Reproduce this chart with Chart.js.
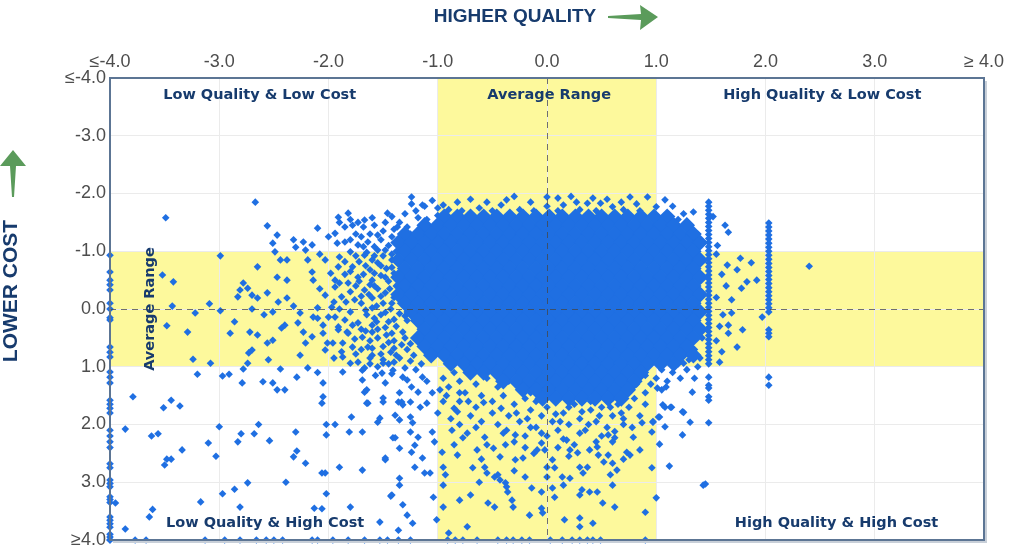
<!DOCTYPE html>
<html>
<head>
<meta charset="utf-8">
<script src="https://cdn.jsdelivr.net/npm/chart.js@4.4.1/dist/chart.umd.min.js"></script>
<style>
  html, body { margin: 0; padding: 0; background: #fff; }
  #wrap { width: 1024px; height: 559px; }
</style>
</head>
<body>
<div id="wrap"><canvas id="myChart" width="1024" height="559"></canvas></div>
<script>
// quality (x) vs cost (y) scatter, values clipped to +/-4

const tickValues = [-4, -3, -2, -1, 0, 1, 2, 3, 4];
const xTickLabels = ['≤-4.0', '-3.0', '-2.0', '-1.0', '0.0', '1.0', '2.0', '3.0', '≥ 4.0'];
const yTickLabels = ['≤-4.0', '-3.0', '-2.0', '-1.0', '0.0', '1.0', '2.0', '3.0', '≥4.0'];

// solid core of the cloud, read row by row: [y, [x, x, ...]]
const denseRows = [
    [-1.6, [-0.94,-0.82,-0.7,-0.58,-0.46,-0.34,-0.22,-0.1,0.02,0.14,0.26,0.38,0.5,0.62,0.74,0.86,0.98,1.1]],
    [-1.45, [-1.12,-1.0,-0.88,-0.76,-0.64,-0.52,-0.4,-0.28,-0.16,-0.04,0.08,0.2,0.32,0.44,0.56,0.68,0.8,0.92,1.04,1.16,1.28]],
    [-1.3, [-1.3,-1.18,-1.06,-0.94,-0.82,-0.7,-0.58,-0.46,-0.34,-0.22,-0.1,0.02,0.14,0.26,0.38,0.5,0.62,0.74,0.86,0.98,1.1,1.22,1.34]],
    [-1.15, [-1.36,-1.24,-1.12,-1.0,-0.88,-0.76,-0.64,-0.52,-0.4,-0.28,-0.16,-0.04,0.08,0.2,0.32,0.44,0.56,0.68,0.8,0.92,1.04,1.16,1.28,1.4]],
    [-1.0, [-1.3,-1.18,-1.06,-0.94,-0.82,-0.7,-0.58,-0.46,-0.34,-0.22,-0.1,0.02,0.14,0.26,0.38,0.5,0.62,0.74,0.86,0.98,1.1,1.22,1.34]],
    [-0.85, [-1.36,-1.24,-1.12,-1.0,-0.88,-0.76,-0.64,-0.52,-0.4,-0.28,-0.16,-0.04,0.08,0.2,0.32,0.44,0.56,0.68,0.8,0.92,1.04,1.16,1.28,1.4]],
    [-0.7, [-1.3,-1.18,-1.06,-0.94,-0.82,-0.7,-0.58,-0.46,-0.34,-0.22,-0.1,0.02,0.14,0.26,0.38,0.5,0.62,0.74,0.86,0.98,1.1,1.22,1.34]],
    [-0.55, [-1.36,-1.24,-1.12,-1.0,-0.88,-0.76,-0.64,-0.52,-0.4,-0.28,-0.16,-0.04,0.08,0.2,0.32,0.44,0.56,0.68,0.8,0.92,1.04,1.16,1.28,1.4]],
    [-0.4, [-1.3,-1.18,-1.06,-0.94,-0.82,-0.7,-0.58,-0.46,-0.34,-0.22,-0.1,0.02,0.14,0.26,0.38,0.5,0.62,0.74,0.86,0.98,1.1,1.22,1.34]],
    [-0.25, [-1.36,-1.24,-1.12,-1.0,-0.88,-0.76,-0.64,-0.52,-0.4,-0.28,-0.16,-0.04,0.08,0.2,0.32,0.44,0.56,0.68,0.8,0.92,1.04,1.16,1.28,1.4]],
    [-0.1, [-1.3,-1.18,-1.06,-0.94,-0.82,-0.7,-0.58,-0.46,-0.34,-0.22,-0.1,0.02,0.14,0.26,0.38,0.5,0.62,0.74,0.86,0.98,1.1,1.22,1.34]],
    [0.05, [-1.24,-1.12,-1.0,-0.88,-0.76,-0.64,-0.52,-0.4,-0.28,-0.16,-0.04,0.08,0.2,0.32,0.44,0.56,0.68,0.8,0.92,1.04,1.16,1.28,1.4]],
    [0.2, [-1.18,-1.06,-0.94,-0.82,-0.7,-0.58,-0.46,-0.34,-0.22,-0.1,0.02,0.14,0.26,0.38,0.5,0.62,0.74,0.86,0.98,1.1,1.22,1.34]],
    [0.35, [-1.12,-1.0,-0.88,-0.76,-0.64,-0.52,-0.4,-0.28,-0.16,-0.04,0.08,0.2,0.32,0.44,0.56,0.68,0.8,0.92,1.04,1.16,1.28,1.4]],
    [0.5, [-1.18,-1.06,-0.94,-0.82,-0.7,-0.58,-0.46,-0.34,-0.22,-0.1,0.02,0.14,0.26,0.38,0.5,0.62,0.74,0.86,0.98,1.1,1.22,1.34]],
    [0.65, [-1.12,-1.0,-0.88,-0.76,-0.64,-0.52,-0.4,-0.28,-0.16,-0.04,0.08,0.2,0.32,0.44,0.56,0.68,0.8,0.92,1.04,1.16,1.28]],
    [0.8, [-1.06,-0.94,-0.82,-0.7,-0.58,-0.46,-0.34,-0.22,-0.1,0.02,0.14,0.26,0.38,0.5,0.62,0.74,0.86,0.98,1.1,1.22,1.34]],
    [0.95, [-0.88,-0.76,-0.64,-0.52,-0.4,-0.28,-0.16,-0.04,0.08,0.2,0.32,0.44,0.56,0.68,0.8,0.92,1.04,1.16]],
    [1.1, [-0.7,-0.58,-0.46,-0.34,-0.22,-0.1,0.02,0.14,0.26,0.38,0.5,0.62,0.74,0.86]],
    [1.25, [-0.4,-0.28,-0.16,-0.04,0.08,0.2,0.32,0.44,0.56,0.68,0.8]],
    [1.4, [-0.22,-0.1,0.02,0.14,0.26,0.38,0.5,0.62,0.74]],
    [1.55, [-0.04,0.08,0.2,0.32,0.44,0.56,0.68]]
];

// values at or beyond the limits, stacked on the plot edges
const leftEdgeY = [-0.93,-0.64,-0.5,-0.42,-0.33,-0.1,0.0,0.15,0.19,0.66,0.75,0.83,1.09,1.18,1.28,1.58,1.65,1.72,1.8,
    2.1,2.2,2.3,2.4,2.68,2.75,2.96,3.02,3.08,3.25,3.3,3.35,3.6,3.66,3.72,3.78,3.9,3.95,4.0];
const bottomEdgeX = [-4,-3.77,-3.67,-3.13,-2.95,-2.81,-2.66,-2.57,-2.5,-2.42,-2.15,-2.1,-1.96,-1.82,-1.67,-1.53,-1.46,-1.36,
    -1.25,-0.91,-0.84,-0.77,-0.64,-0.45,-0.37,-0.31,-0.23,-0.16,0.03,0.14,0.23,0.3,0.37,0.42,0.49,0.9];

// two vertical stacks of identical quality scores
const stackAX = 1.48;
const stackAY = [-1.85,-1.78,-1.71,-1.64,-1.57,-1.5,-1.43,-1.36,-1.29,-1.22,-1.15,-1.08,-1.01,-0.94,-0.87,-0.8,-0.73,-0.66,
    -0.59,-0.52,-0.45,-0.38,-0.31,-0.24,-0.17,-0.1,-0.03,0.04,0.11,0.18,0.25,0.32,0.39,0.46,0.53,0.6,0.67,0.74,0.81,0.88,0.95,
    1.18,1.32,1.37,1.52,1.58,1.97];
const stackBX = 2.03;
const stackBY = [-1.49,-1.42,-1.35,-1.28,-1.21,-1.14,-1.07,-1.0,-0.93,-0.86,-0.79,-0.72,-0.65,-0.58,-0.51,-0.44,-0.37,-0.3,
    -0.23,-0.16,-0.09,-0.02,0.05,0.36,0.42,0.48,1.18,1.32];

// loose points, [x, y]
const upperLeftPts = [
    [-3.49,-1.58],[-2.67,-1.85],[-2.56,-1.44],[-2.47,-1.28],[-2.51,-1.14],[-2.49,-0.99],[-2.32,-1.2],[-2.23,-1.16],[-2.15,-1.11],
    [-2.21,-1.02],[-2.3,-1.07],[-2.1,-1.4],[-2.44,-0.85],[-2.38,-0.85],[-2.99,-0.92],[-2.65,-0.73],[-2.47,-0.55],[-2.38,-0.5],
    [-3.52,-0.59],[-3.42,-0.47],[-2.78,-0.45],[-2.81,-0.33],[-2.74,-0.36],[-2.7,-0.24],[-2.65,-0.19],[-2.56,-0.28],[-2.83,-0.21],
    [-2.46,-0.12],[-2.38,-0.19],[-3.43,-0.05],[-3.22,0.07],[-3.09,-0.09],[-2.99,0.03],[-2.7,0.0],[-2.59,0.1],[-2.51,0.05],
    [-2.32,-0.05],[-2.26,0.07],[-2.86,0.22],[-3.48,0.29],[-3.29,0.4],[-2.9,0.42],[-2.72,0.4],[-2.65,0.45],[-2.56,0.59],
    [-2.51,0.54],[-2.43,0.33],[-2.4,0.28],[-2.28,0.24],[-2.23,0.4],[-2.21,0.59],[-2.15,0.48],[-2.7,0.71],[-2.73,0.76],
    [-2.55,0.88],[-3.24,0.87],[-3.08,0.94],[-2.78,1.04],[-2.74,0.94],[-2.44,1.04],[-2.26,0.8],[-2.19,1.02],[-2.03,0.71],
    [-3.2,1.13],[-2.97,1.16],[-2.91,1.13],[-2.29,1.18],[-2.1,0.16],[-2.0,0.14],[-1.96,0.59],[-1.91,0.36],[-1.83,0.4],[-1.88,0.74],
    [-1.91,-1.59],[-1.82,-1.66],[-1.94,-1.31],[-2.03,-0.85],[-2.19,-0.85],[-2.15,-0.64],[-2.14,-0.5],[-2.03,-0.24],[-1.94,-0.38],
    [-2.1,-0.02],[-1.97,-0.03],[-2.14,0.14],[-2.05,0.28],[-1.91,0.31],[-2.01,0.59],[-1.78,-1.45],[-1.73,-1.5],[-1.67,-1.54],
    [-1.6,-1.58],[-1.46,-1.66],[-1.42,-1.6],[-1.24,-1.94],[-1.24,-1.82],[-1.14,-1.8],[-1.37,-1.42],[-1.92,-1.14],[-1.85,-1.16],
    [-1.73,-1.11],[-1.64,-1.16],[-1.8,-0.99],[-1.67,-0.93],[-1.55,-1.02],[-1.91,-0.73],[-1.78,-0.73],[-1.94,-0.5],[-1.82,-0.45],
    [-1.73,-0.55],[-1.6,-0.5],[-1.67,-0.33],[-1.88,-0.21],[-1.76,-0.16],[-1.6,-0.19],[-1.94,0.14],[-1.85,0.19],[-1.73,0.24],
    [-1.58,0.16],[-1.82,0.42],[-1.69,0.49],[-1.6,0.4],[-1.87,0.59],[-1.78,0.66],[-1.64,0.66],[-1.87,0.83],[-1.73,0.92],
    [-1.6,0.8],[-1.87,1.09],[-1.8,0.94],[-1.69,1.06],[-1.51,1.11],
    [-1.5,-1.35],[-1.42,-1.25],[-1.52,-1.2],[-1.45,-1.1],[-1.38,-1.0],[-1.5,-0.92],[-1.42,-0.85],[-1.55,-0.8],[-1.47,-0.7],
    [-1.4,-0.62],[-1.52,-0.58],[-1.45,-0.48],[-1.38,-0.4],[-1.55,-0.35],[-1.48,-0.28],[-1.4,-0.2],[-1.5,-0.1],[-1.43,0.0],
    [-1.35,0.08],[-1.52,0.1],[-1.45,0.22],[-1.38,0.3],[-1.55,0.35],[-1.47,0.45],[-1.4,0.55],[-1.33,0.62],[-1.5,0.65],
    [-1.43,0.75],[-1.35,0.85],[-1.25,0.9],[-1.45,0.95],[-1.3,1.02],[-1.2,1.05],[-1.15,0.95],[-1.22,0.8],[-1.28,0.7],
    [-1.3,0.5],[-1.32,0.4],[-1.28,0.2],[-1.3,0.12],[-1.25,0.6],
    [-1.62,-1.3],[-1.7,-1.25],[-1.58,-1.08],[-1.65,-0.98],[-1.6,-0.85],[-1.72,-0.82],[-1.62,-0.68],[-1.68,-0.6],[-1.58,-0.4],
    [-1.75,-0.4],[-1.63,-0.25],[-1.7,-0.1],[-1.6,-0.02],[-1.8,0.05],[-1.65,0.1],[-1.6,0.28],[-1.7,0.35],[-1.62,0.55],
    [-1.75,0.78],[-1.62,0.95],[-1.57,1.15],[-1.85,-0.6],[-1.8,-0.3],[-1.9,-0.9],[-1.75,-1.3],[-1.85,-1.42],
    [-1.9,-1.5],[-1.8,-1.55],[-1.68,-1.42],[-1.58,-1.45],[-1.48,-1.5],[-1.4,-1.38],[-1.55,-1.28],[-1.8,-1.2],[-1.68,-1.08],
    [-1.48,-1.02],[-1.58,-0.92],[-1.85,-0.82],[-1.75,-0.92],[-1.42,-0.95],[-1.52,-0.75],[-1.66,-0.75],[-1.8,-0.65],[-1.42,-0.72],
    [-1.58,-0.62],[-1.72,-0.48],[-1.48,-0.55],[-1.62,-0.42],[-1.9,-0.45],[-1.44,-0.35],[-1.52,-0.22],[-1.7,-0.22],[-1.84,-0.12],
    [-1.42,-0.1],[-1.56,-0.05],[-1.66,0.02],[-1.48,0.06],[-1.9,0.0],[-1.4,0.18],[-1.56,0.22],[-1.78,0.28],[-1.48,0.32],
    [-1.66,0.38],[-1.42,0.42],[-1.55,0.5],[-1.76,0.52],[-1.45,0.58],[-1.6,0.68],[-1.4,0.68],[-1.7,0.7],[-1.52,0.78],
    [-1.38,0.8],[-1.62,0.85],[-1.5,0.88],[-1.4,0.92],[-1.55,1.0],[-1.42,1.12],[-1.32,1.18],[-2.0,-1.25],[-2.08,-0.95],
    [-1.98,-0.62],[-2.08,-0.35],[-1.95,-0.12],[-2.05,0.42],[-1.95,0.85],[-2.1,1.1]
];

const lowerLeftPts = [
    [-2.79,1.28],[-2.6,1.26],[-2.51,1.28],[-2.47,1.4],[-2.4,1.4],[-2.05,1.28],[-2.05,1.52],[-2.06,1.63],[-1.69,1.23],
    [-1.65,1.4],[-1.64,1.63],[-1.5,1.54],[-1.53,1.89],[-1.55,1.96],[-1.39,1.84],[-1.36,1.61],[-3.79,1.52],[-3.51,1.71],
    [-3.44,1.58],[-3.36,1.68],[-3.86,2.08],[-3.62,2.2],[-3.56,2.16],[-3.34,2.44],[-3.5,2.7],[-3.48,2.6],[-3.44,2.6],
    [-3.1,2.32],[-3.03,2.55],[-3.0,2.04],[-2.83,2.3],[-2.8,2.16],[-2.68,2.16],[-2.64,2.0],[-2.54,2.28],[-2.32,2.56],
    [-2.29,2.46],[-2.3,2.13],[-2.21,2.67],[-2.06,2.84],[-2.03,2.84],[-2.02,2.18],[-2.02,2.0],[-1.94,2.0],[-1.9,2.74],
    [-1.81,2.13],[-1.79,1.87],[-1.69,2.13],[-1.69,2.79],[-1.48,2.61],[-1.41,2.23],[-1.43,3.24],[-2.39,3.0],[-2.74,3.01],
    [-2.86,3.12],[-2.97,3.2],[-3.17,3.34],[-2.02,3.2],[-2.13,3.45],[-2.06,3.46],[-1.8,3.43],[-2.81,3.43],[-3.61,3.47],
    [-3.64,3.6],[-3.86,3.81],[-3.95,3.36],[-1.53,3.69],[-1.36,3.83]
];

const lowerMidPts = [
    [-1.67,1.02],[-1.5,0.94],[-1.41,1.06],[-1.67,1.44],[-1.65,1.63],[-1.48,1.28],[-1.5,1.61],[-1.35,1.45],[-1.33,1.61],
    [-1.32,1.66],[-1.25,1.61],[-1.24,1.35],[-1.28,1.23],[-1.14,1.18],[-1.18,1.44],[-1.1,1.63],[-1.16,1.7],[-1.35,1.92],
    [-1.25,1.87],[-1.23,1.97],[-1.25,2.13],[-1.39,2.23],[-1.18,2.22],[-1.21,2.36],[-1.35,2.41],[-1.48,2.58],[-1.24,2.48],
    [-1.14,2.58],[-1.21,2.74],[-1.12,2.84],[-1.07,2.84],[-1.35,2.93],[-1.35,3.05],[-1.42,3.22],[-1.04,3.26],[-1.32,3.39],
    [-1.28,3.57],[-1.23,3.71],[-1.01,3.65],[-0.98,1.4],[-1.05,2.13],[-1.03,2.3],[-0.96,2.48],[-0.95,2.74],[-0.93,2.87],
    [-0.95,3.05],[-0.95,3.43],[-0.9,3.88],[-0.8,1.45],[-0.82,1.78],[-0.87,2.1],[-0.73,2.15],[-0.77,2.23],[-0.82,2.53],
    [-0.68,2.75],[-0.7,3.22],[-0.8,3.31],[-0.73,3.77],[-0.57,2.22],[-0.55,2.35],[-0.49,2.41],[-0.64,2.44],[-0.57,2.74],
    [-0.55,2.84],[-0.48,2.91],[-0.43,2.96],[-0.38,3.01],[-0.37,3.08],[-0.36,3.17],[-0.32,3.31],[-0.31,3.43],[-0.45,2.87],
    [-0.54,3.36],[-0.48,3.43],[-0.43,2.56],[-0.38,2.35],[-0.37,2.1],[-0.29,2.18],[-0.29,2.61],[-0.22,2.58],[-0.2,2.91],
    [-0.16,3.57],[-0.14,3.1],[-0.05,3.17],[-0.05,3.45],[-0.04,3.53],[0.0,2.91],[0.0,2.74],[0.07,2.75],[0.05,3.1],[0.07,3.26],
    [-0.05,2.32],[-0.02,2.44],[-0.09,2.44],[0.05,2.61],[0.14,2.91],[0.21,2.93],[0.16,3.65],[0.3,3.62],[0.3,3.77],[0.42,3.71],
    [0.3,3.22],[0.32,3.13],[0.39,3.17],[0.3,2.74],[0.37,2.74],[0.33,2.84],[0.39,2.44],[0.46,2.39],[0.28,2.49],[0.21,2.44],
    [0.18,2.27],[0.51,3.36],[0.62,3.43],[0.46,3.17],[0.58,2.87],[0.64,2.79],[0.6,2.67],[0.56,2.53],[0.47,2.53],[0.73,2.48],
    [0.85,2.44],[0.76,2.53],[0.96,2.75],[0.9,3.52],[1.0,3.27],[0.79,2.22],[0.96,2.13],[0.87,1.97],[0.97,1.96],[0.62,2.23],
    [0.56,2.18],[1.03,1.87],[1.01,1.37],[1.08,1.7],[1.14,1.7],[1.33,1.44],[1.24,1.78],[1.31,1.96],[1.08,2.04],[1.24,2.18],
    [1.43,3.05],[1.45,3.03],[1.12,2.72],[1.03,2.34],
    [-0.95,1.2],[-0.85,1.1],[-0.8,1.25],[-0.7,1.15],[-0.65,1.3],[-0.55,1.2],[-0.45,1.35],[-0.35,1.25],[-0.25,1.4],[-0.9,1.35],
    [-0.75,1.45],[-0.6,1.5],[-0.5,1.6],[-0.4,1.5],[-0.3,1.65],[-0.2,1.55],[-0.1,1.6],[-0.15,1.75],[-0.05,1.85],[-0.35,1.85],
    [-0.5,1.8],[-0.65,1.7],[-0.95,1.6],[-0.88,1.9],[-0.6,1.95],[-0.45,2.0],[-0.25,1.95],[-0.1,2.05],[0.0,1.7],[0.05,1.95],
    [0.1,2.1],[0.15,1.8],[0.2,2.0],[0.25,1.65],[0.3,1.9],[0.35,2.1],[0.4,1.75],[0.45,1.95],[0.5,1.7],[0.55,2.05],[0.6,1.85],
    [0.65,1.65],[0.7,2.0],[0.5,2.2],[0.3,2.15],[0.15,2.25],[-0.05,2.15],[-0.2,2.2],[0.4,1.6],[0.6,1.55],[0.75,1.45],[0.82,1.3],
    [0.9,1.15],[-0.15,1.45],[0.05,1.55],[-0.3,2.3],[0.6,2.3],[0.25,2.35],[-0.8,1.6],[-1.0,1.8],[-1.05,1.45],[-1.1,1.25],
    [1.1,0.9],[1.2,0.95],[1.3,0.88],[1.05,1.05],[1.15,1.1],[1.28,1.05],[1.38,1.0],[1.0,1.2],[1.1,1.25],[1.22,1.2],[0.95,1.3],
    [1.35,1.2],[1.25,0.8],[1.35,0.7],[1.42,0.5],[1.4,0.85],[1.05,1.4],[0.9,1.45],[0.8,1.55],[0.75,1.7],[0.9,1.65],[0.85,1.85],
    [0.7,1.9],
    [-0.92,1.5],[-0.85,1.72],[-0.7,1.85],[-0.72,1.6],[-0.58,1.62],[-0.42,1.72],[-0.28,1.8],[-0.18,1.9],[0.08,1.82],[0.2,1.7],
    [0.32,1.78],[0.48,1.85],[0.58,1.7],[0.68,1.8],[0.12,1.95],[0.38,2.0],[0.62,2.12],[0.45,2.3],[0.0,2.2],[-0.15,2.05],
    [-0.4,2.15],[-0.65,2.05],[-0.8,2.0],[0.78,2.05],[0.2,2.55],[0.1,2.4],[-0.12,2.5],[-0.2,2.4],[0.7,2.6],[-0.6,2.6],
    [-0.85,2.35],[0.52,2.65],[-0.3,2.8],[0.15,3.05],[-0.62,3.0],[0.6,3.05]
];

const topAndRightPts = [
    [-1.12,-1.78],[-0.37,-1.89],[0.0,-1.94],[0.0,-1.78],[0.15,-1.8],[0.27,-1.85],[0.37,-1.83],[0.49,-1.83],[0.6,-1.77],
    [0.76,-1.94],[0.92,-1.94],[1.08,-1.89],[1.0,-1.77],[1.34,-1.68],[-0.9,-1.72],[-0.78,-1.7],[-0.62,-1.75],[-0.5,-1.7],
    [-0.25,-1.72],[-0.12,-1.7],[0.1,-1.7],[0.3,-1.72],[0.45,-1.7],[0.7,-1.72],[0.85,-1.7],[1.1,-1.65],[1.2,-1.55],[-1.0,-1.62],
    [-1.1,-1.55],[-0.95,-1.8],[-0.55,-1.85],[0.55,-1.9],[-1.35,-1.5],[-1.3,-1.65],[-1.25,-1.3],[-1.28,-1.42],
    [-1.2,-1.7],[-1.05,-1.88],[-0.82,-1.85],[-0.7,-1.9],[-0.42,-1.8],[-0.3,-1.95],[-0.15,-1.85],[0.1,-1.92],[0.22,-1.95],
    [0.42,-1.92],[0.68,-1.85],[0.82,-1.82],[1.15,-1.78],[1.25,-1.65],[-1.0,-1.75],[1.3,-1.45],[1.38,-1.3],[-1.18,-1.58],
    [1.63,-1.45],[1.66,-1.33],[1.4,-1.2],[1.77,-0.88],[1.87,-0.8],[1.65,-0.76],[1.74,-0.68],[1.83,-0.47],[1.92,-0.5],
    [1.78,-0.36],[1.64,-0.4],[1.69,-0.16],[1.97,0.14],[1.61,0.1],[1.69,0.07],[1.66,0.28],[1.79,0.36],[1.66,0.42],[1.74,0.66],
    [1.6,0.74],[1.58,0.92],[1.33,0.76],[1.25,0.94],[1.09,1.35],[2.4,-0.74],[1.55,-0.95],[1.6,-0.6],[1.55,-0.2],[1.58,0.3],
    [1.55,0.55],[1.52,-1.6],[1.56,-1.1],[1.06,1.66],[1.13,1.7],[1.25,1.79],[1.02,1.87],[0.97,1.95]
];

// build the point lists for the two marker sizes
const densePoints = [];
denseRows.forEach(([y, xs]) => xs.forEach(x => densePoints.push({ x: x, y: y })));

const loosePoints = [];
leftEdgeY.forEach(y => loosePoints.push({ x: -4, y: y }));
bottomEdgeX.forEach(x => loosePoints.push({ x: x, y: 4 }));
stackAY.forEach(y => loosePoints.push({ x: stackAX, y: y }));
stackBY.forEach(y => loosePoints.push({ x: stackBX, y: y }));
[upperLeftPts, lowerLeftPts, lowerMidPts, topAndRightPts].forEach(list =>
    list.forEach(([x, y]) => loosePoints.push({ x: x, y: y })));

const BLUE = '#1f6fe2';
const NAVY = '#173b6d';
const GREEN = '#5b9b5b';

const quadrantPlugin = {
    id: 'quadrants',
    beforeDraw(chart) {
        const { ctx, chartArea: a, scales: { x, y } } = chart;
        ctx.save();
        ctx.fillStyle = '#fdf99c';
        const x1 = x.getPixelForValue(-1), x2 = x.getPixelForValue(1);
        const y1 = y.getPixelForValue(-1), y2 = y.getPixelForValue(1);
        ctx.fillRect(x1, a.top, x2 - x1, a.bottom - a.top);
        ctx.fillRect(a.left, y1, a.right - a.left, y2 - y1);
        ctx.restore();
    },
    afterDatasetsDraw(chart) {
        const { ctx, chartArea: a, scales: { x, y } } = chart;
        ctx.save();
        // dashed zero lines
        ctx.strokeStyle = 'rgba(70,70,70,0.75)';
        ctx.lineWidth = 1;
        ctx.setLineDash([6, 5]);
        const x0 = Math.round(x.getPixelForValue(0)) + 0.5;
        const y0 = Math.round(y.getPixelForValue(0)) + 0.5;
        ctx.beginPath();
        ctx.moveTo(x0, a.top); ctx.lineTo(x0, a.bottom);
        ctx.moveTo(a.left, y0); ctx.lineTo(a.right, y0);
        ctx.stroke();
        ctx.setLineDash([]);

        // frame with a soft shadow
        ctx.strokeStyle = '#c8cfd8';
        ctx.lineWidth = 2;
        ctx.beginPath();
        ctx.moveTo(a.right + 2, a.top + 3); ctx.lineTo(a.right + 2, a.bottom + 2); ctx.lineTo(a.left + 3, a.bottom + 2);
        ctx.stroke();
        ctx.strokeStyle = '#5c7594';
        ctx.strokeRect(a.left, a.top, a.right - a.left, a.bottom - a.top);

        // region labels
        ctx.fillStyle = NAVY;
        ctx.font = 'bold 14.5px "DejaVu Sans"';
        ctx.textAlign = 'center';
        ctx.textBaseline = 'middle';
        const put = (txt, vx, vy) => ctx.fillText(txt, x.getPixelForValue(vx), y.getPixelForValue(vy));
        put('Low Quality & Low Cost', -2.63, -3.71);
        put('Average Range', 0.02, -3.71);
        put('High Quality & Low Cost', 2.52, -3.71);
        put('Low Quality & High Cost', -2.58, 3.71);
        put('High Quality & High Cost', 2.65, 3.71);
        ctx.translate(x.getPixelForValue(-3.63), y.getPixelForValue(0));
        ctx.rotate(-Math.PI / 2);
        ctx.fillText('Average Range', 0, 0);
        ctx.restore();
    },
    afterDraw(chart) {
        const { ctx } = chart;
        ctx.save();
        ctx.fillStyle = NAVY;
        ctx.textAlign = 'center';
        ctx.textBaseline = 'middle';
        ctx.font = 'bold 19px "Liberation Sans"';
        ctx.fillText('HIGHER QUALITY', 515, 17);
        ctx.save();
        ctx.translate(11, 291);
        ctx.rotate(-Math.PI / 2);
        ctx.font = 'bold 21px "Liberation Sans"';
        ctx.fillText('LOWER COST', 0, 0);
        ctx.restore();

        // green arrows
        ctx.fillStyle = GREEN;
        ctx.beginPath();
        ctx.moveTo(608, 16); ctx.lineTo(641, 14); ctx.lineTo(640, 5); ctx.lineTo(658, 17);
        ctx.lineTo(640, 30); ctx.lineTo(641, 20); ctx.lineTo(608, 18);
        ctx.closePath();
        ctx.fill();
        ctx.beginPath();
        ctx.moveTo(12, 197); ctx.lineTo(10, 166); ctx.lineTo(0, 166); ctx.lineTo(13, 150);
        ctx.lineTo(26, 166); ctx.lineTo(16, 166); ctx.lineTo(14, 197);
        ctx.closePath();
        ctx.fill();
        ctx.restore();
    }
};

const axisCommon = {
    type: 'linear',
    min: -4,
    max: 4,
    afterBuildTicks: (scale) => { scale.ticks = tickValues.map(v => ({ value: v })); },
    grid: { color: '#ebebeb', drawTicks: false },
    border: { display: false }
};

const config = {
    type: 'scatter',
    data: {
        datasets: [
            {
                label: 'dense',
                data: densePoints,
                pointStyle: 'rectRot',
                pointRadius: 8.2,
                pointHoverRadius: 8.2,
                pointBorderWidth: 0,
                backgroundColor: BLUE
            },
            {
                label: 'points',
                data: loosePoints,
                pointStyle: 'rectRot',
                pointRadius: 3.8,
                pointHoverRadius: 3.8,
                pointBorderWidth: 0,
                backgroundColor: BLUE,
                clip: 8
            }
        ]
    },
    options: {
        responsive: false,
        devicePixelRatio: 1,
        animation: false,
        layout: { padding: { left: 0, top: 0, right: 40, bottom: 19 } },
        plugins: { legend: { display: false }, tooltip: { enabled: false } },
        scales: {
            x: {
                ...axisCommon,
                position: 'top',
                afterFit: (s) => { s.height = 78; },
                ticks: {
                    autoSkip: false, maxRotation: 0, padding: 5,
                    color: '#4d4d4d', font: { family: '"Liberation Sans"', size: 18 },
                    callback: (v) => xTickLabels[tickValues.indexOf(v)]
                }
            },
            y: {
                ...axisCommon,
                reverse: true,
                afterFit: (s) => { s.width = 110; },
                ticks: {
                    autoSkip: false, padding: 4,
                    color: '#4d4d4d', font: { family: '"Liberation Sans"', size: 18 },
                    callback: (v) => yTickLabels[tickValues.indexOf(v)]
                }
            }
        }
    },
    plugins: [quadrantPlugin]
};

new Chart(document.getElementById('myChart'), config);
</script>
</body>
</html>
